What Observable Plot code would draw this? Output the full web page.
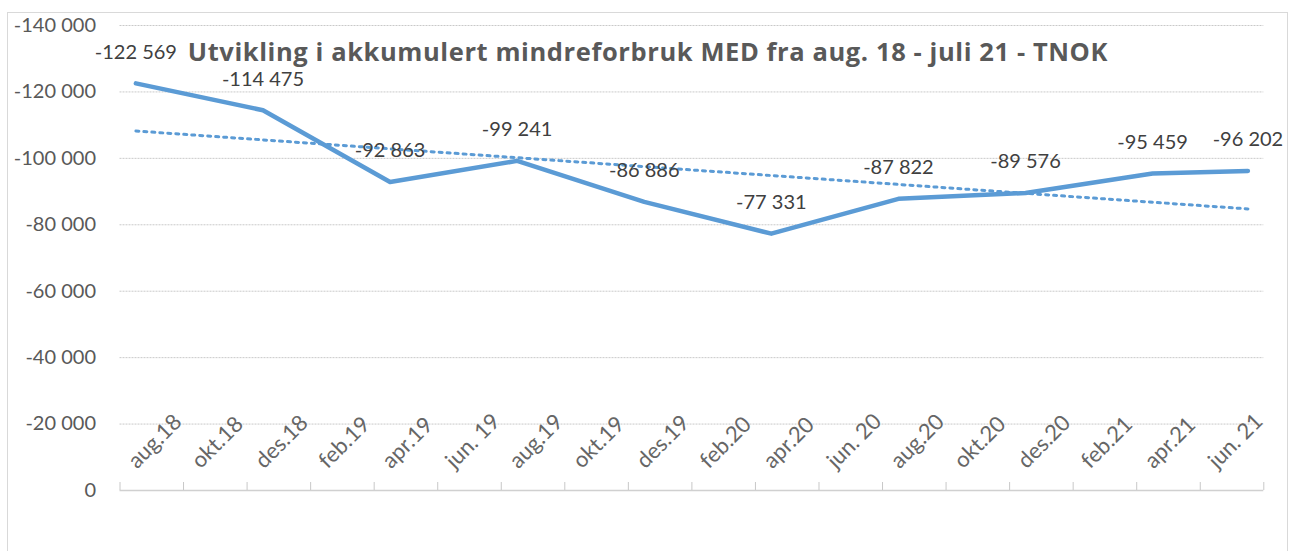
<!DOCTYPE html>
<html>
<head>
<meta charset="utf-8">
<script src="https://cdn.jsdelivr.net/npm/d3@7"></script>
<script src="https://cdn.jsdelivr.net/npm/@observablehq/plot@0.6"></script>
<style>
  html, body { margin: 0; padding: 0; background: #fff; }
  #wrap { position: relative; width: 1295px; height: 551px; overflow: hidden; }
  #frame { position: absolute; left: 7px; top: 12px; width: 1281px; height: 600px; border: 1px solid #d9d9d9; box-sizing: border-box; }
  #chart { position: absolute; left: 0; top: 0; }
</style>
</head>
<body>
<div id="wrap"><div id="frame"></div><div id="chart"></div></div>
<script>
// Data (month index counted from aug.18 = 0)
const titleText = "Utvikling i akkumulert mindreforbruk MED fra aug. 18 - juli 21 - TNOK";
const pointMonths = [0, 4, 8, 12, 16, 20, 24, 28, 32, 35];
const pointValues = [-122569, -114475, -92863, -99241, -86886, -77331, -87822, -89576, -95459, -96202];
const tickLabels = ["aug.18","okt.18","des.18","feb.19","apr.19","jun. 19","aug.19","okt.19","des.19",
                    "feb.20","apr.20","jun. 20","aug.20","okt.20","des.20","feb.21","apr.21","jun. 21"];
const yTicks = [-140000, -120000, -100000, -80000, -60000, -40000, -20000, 0];

const data = pointMonths.map((m, i) => ({m, v: pointValues[i]}));
const labels = tickLabels.map((t, i) => ({m: i * 2, t}));
const tickPos = d3.range(0, 19).map(i => i * 2 - 0.5);

const fmt = v => (v < 0 ? "-" : "") + d3.format(",")(Math.abs(v)).replace(/,/g, " ");

// Linear trend (least squares over months)
const mx = d3.mean(pointMonths), my = d3.mean(pointValues);
const slope = d3.sum(data, d => (d.m - mx) * (d.v - my)) / d3.sum(data, d => (d.m - mx) ** 2);
const trend = [0, 35].map(m => ({m, v: my + slope * (m - mx)}));

const font = "Lato, 'Open Sans', sans-serif";
const blue = "#5B9BD5";

const chart = Plot.plot({
  width: 1295,
  height: 551,
  marginTop: 25,
  marginBottom: 61,
  marginLeft: 119.5,
  marginRight: 31.7,
  style: {fontFamily: font, background: "transparent", overflow: "visible"},
  x: {domain: [-0.5, 35.5], axis: null},
  y: {domain: [-140000, 0], reverse: true, axis: null},
  marks: [
    Plot.ruleY(yTicks.filter(d => d !== 0), {stroke: "#c9c9c9", strokeWidth: 1, strokeDasharray: "2,1"}),
    Plot.ruleY([0], {stroke: "#d0d0d0", strokeWidth: 1.5}),
    Plot.ruleX(tickPos, {x: d => d, y1: 0, y2: 0, insetTop: -8, stroke: "#c8c8c8", strokeWidth: 1}),
    Plot.text(yTicks, {y: d => d, text: d => fmt(d), frameAnchor: "left", textAnchor: "end", dx: -24, fontSize: 20, fill: "#595959"}),
    Plot.text(labels, {x: "m", text: "t", frameAnchor: "bottom", dy: -21, dx: 1, rotate: -45, textAnchor: "start", lineAnchor: "bottom", fontSize: 22, fill: "#666666"}),
    Plot.line(trend, {x: "m", y: "v", stroke: blue, strokeWidth: 3, strokeDasharray: "3,5"}),
    Plot.line(data, {x: "m", y: "v", stroke: blue, strokeWidth: 4.5, strokeLinejoin: "round"}),
    Plot.text(data, {x: "m", y: "v", text: d => fmt(d.v), dy: -31, fontSize: 20, fill: "#404040"}),
    Plot.text([titleText], {frameAnchor: "top", dy: 17, dx: -44, text: d => d, fontSize: 25.5, fontWeight: "bold", fill: "#595959", fontFamily: "'Open Sans', sans-serif"})
  ]
});
chart.querySelectorAll("text").forEach(t => { if (t.textContent === titleText) t.setAttribute("letter-spacing", "0.6"); });
document.getElementById("chart").appendChild(chart);
</script>
</body>
</html>
